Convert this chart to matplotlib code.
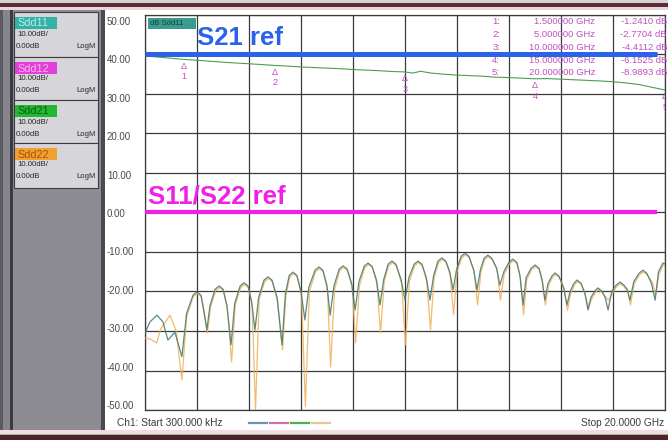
import matplotlib
matplotlib.use("Agg")
import matplotlib.pyplot as plt
from matplotlib.patches import Rectangle

plt.rcParams['font.family'] = ['Liberation Sans', 'DejaVu Sans']

W, H = 668, 440

# ---- measured traces (frequency in GHz, magnitude in dB) ----
s21_freq = [0.0003, 0.5, 1.0, 1.5, 2.0, 2.5, 3.0, 3.5, 4.0, 4.5, 5.0, 5.5, 6.0, 6.5,
            7.0, 7.5, 8.0, 8.5, 9.0, 9.5, 10.0, 10.3, 10.6, 11.0, 11.5, 12.0, 12.5,
            13.0, 13.5, 14.0, 14.5, 15.0, 15.5, 16.0, 16.5, 17.0, 17.5, 18.0, 18.5,
            19.0, 19.5, 20.0]
s21_db = [-0.35, -0.65, -0.95, -1.2410, -1.45, -1.70, -1.95, -2.15, -2.35, -2.55,
          -2.7704, -2.95, -3.15, -3.30, -3.45, -3.60, -3.80, -3.95, -4.10, -4.30,
          -4.4112, -4.70, -4.25, -4.70, -5.00, -5.20, -5.35, -5.50, -5.75, -5.85,
          -6.00, -6.1525, -6.10, -6.25, -6.40, -6.55, -6.70, -6.90, -7.20, -7.60,
          -8.30, -8.9893]

sdd11_freq = [0.0003, 0.19, 0.46, 0.69, 0.88, 1.15, 1.42, 1.60, 1.85, 2.00, 2.15, 2.25,
              2.38, 2.50, 2.70, 2.85, 3.00, 3.15, 3.31, 3.45, 3.66, 3.81, 3.96, 4.10,
              4.23, 4.37, 4.58, 4.73, 4.88, 5.08, 5.27, 5.40, 5.55, 5.69, 5.84, 6.00,
              6.15, 6.30, 6.54, 6.69, 6.84, 7.00, 7.12, 7.27, 7.47, 7.62, 7.77, 7.95,
              8.08, 8.23, 8.43, 8.58, 8.73, 8.90, 9.04, 9.18, 9.35, 9.50, 9.65, 9.85,
              10.00, 10.15, 10.35, 10.50, 10.65, 10.82, 10.96, 11.10, 11.27, 11.42,
              11.57, 11.72, 11.85, 11.98, 12.16, 12.31, 12.46, 12.64, 12.77, 12.90,
              13.04, 13.19, 13.34, 13.52, 13.65, 13.80, 14.00, 14.15, 14.30, 14.42,
              14.54, 14.66, 14.85, 15.00, 15.15, 15.27, 15.38, 15.50, 15.65, 15.77,
              15.92, 16.10, 16.23, 16.35, 16.50, 16.62, 16.77, 16.92, 17.04, 17.15,
              17.30, 17.42, 17.57, 17.70, 17.81, 17.95, 18.12, 18.27, 18.42, 18.55,
              18.65, 18.80, 19.00, 19.15, 19.30, 19.48, 19.62, 19.75, 19.92, 20.00]
sdd11_db = [-30.5, -27.7, -26.0, -27.7, -32.3, -30.3, -36.5, -25.5, -20.9, -20.1, -20.9,
            -24.5, -29.7, -23.5, -19.4, -18.6, -19.4, -23.5, -33.5, -23.0, -18.6, -17.8,
            -18.6, -22.5, -29.7, -21.5, -17.1, -16.3, -17.1, -21.5, -33.5, -20.5, -15.9,
            -15.1, -15.9, -20.0, -27.2, -19.0, -14.6, -13.8, -14.6, -18.5, -26.0, -18.5,
            -14.3, -13.5, -14.3, -18.0, -24.7, -17.5, -13.6, -12.8, -13.6, -17.0, -23.4,
            -17.0, -13.1, -12.3, -13.1, -17.0, -22.2, -16.5, -13.1, -12.3, -13.1, -16.5,
            -22.2, -16.0, -12.3, -11.5, -12.3, -15.0, -19.6, -14.5, -11.1, -10.3, -11.1,
            -14.5, -19.6, -14.5, -11.6, -10.8, -11.6, -14.0, -18.4, -15.0, -12.6, -11.8,
            -12.6, -16.0, -23.4, -16.5, -14.1, -13.3, -14.1, -17.0, -22.2, -18.0, -16.1,
            -15.3, -16.1, -19.0, -23.4, -20.0, -17.9, -17.1, -17.9, -20.5, -24.7, -21.5,
            -19.9, -19.1, -19.9, -21.5, -24.7, -20.0, -18.4, -17.6, -18.4, -19.5, -22.2,
            -17.5, -15.4, -14.6, -15.4, -18.0, -22.2, -15.0, -12.8, -13.0]

sdd22_freq = [0.0003, 0.20, 0.45, 0.60, 0.96, 1.20, 1.42, 1.60, 1.85, 2.02, 2.17, 2.27,
              2.40, 2.52, 2.72, 2.87, 3.02, 3.17, 3.33, 3.47, 3.68, 3.83, 3.98, 4.12,
              4.25, 4.39, 4.60, 4.75, 4.90, 5.10, 5.29, 5.42, 5.57, 5.71, 5.86, 6.02,
              6.17, 6.32, 6.56, 6.71, 6.86, 7.02, 7.14, 7.29, 7.49, 7.64, 7.79, 7.97,
              8.10, 8.25, 8.45, 8.60, 8.75, 8.92, 9.06, 9.20, 9.37, 9.52, 9.67, 9.87,
              10.02, 10.17, 10.37, 10.52, 10.67, 10.84, 10.98, 11.12, 11.29, 11.44,
              11.59, 11.74, 11.87, 12.00, 12.18, 12.33, 12.48, 12.66, 12.79, 12.92,
              13.06, 13.21, 13.36, 13.54, 13.67, 13.82, 14.02, 14.17, 14.32, 14.44,
              14.56, 14.68, 14.87, 15.02, 15.17, 15.29, 15.40, 15.52, 15.67, 15.79,
              15.94, 16.12, 16.25, 16.37, 16.52, 16.64, 16.79, 16.94, 17.06, 17.17,
              17.32, 17.44, 17.59, 17.72, 17.83, 17.97, 18.14, 18.29, 18.44, 18.57,
              18.67, 18.82, 19.02, 19.17, 19.32, 19.50, 19.64, 19.77, 19.94, 20.00]
sdd22_db = [-31.8, -32.0, -33.0, -29.5, -26.0, -30.0, -42.4, -26.5, -21.3, -20.5, -21.3,
            -25.0, -30.5, -24.0, -19.8, -19.0, -19.8, -24.5, -37.8, -23.5, -19.0, -18.2,
            -19.0, -23.5, -50.0, -22.0, -17.5, -16.7, -17.5, -22.5, -34.8, -21.0, -16.3,
            -15.5, -16.3, -21.0, -49.2, -20.0, -15.0, -14.2, -15.0, -20.0, -39.1, -19.5,
            -14.7, -13.9, -14.7, -19.0, -33.0, -18.5, -14.0, -13.2, -14.0, -18.0, -30.5,
            -17.5, -13.5, -12.7, -13.5, -18.0, -33.5, -17.5, -13.5, -12.7, -13.5, -17.5,
            -29.7, -16.5, -12.7, -11.9, -12.7, -16.0, -25.9, -15.0, -11.5, -10.7, -11.5,
            -15.0, -23.4, -15.0, -12.0, -11.2, -12.0, -14.5, -22.2, -15.5, -13.0, -12.2,
            -13.0, -16.5, -25.9, -17.0, -14.5, -13.7, -14.5, -17.5, -23.4, -18.5, -16.5,
            -15.7, -16.5, -19.5, -24.7, -20.5, -18.3, -17.5, -18.3, -21.0, -24.2, -22.0,
            -20.3, -19.5, -20.3, -21.5, -22.2, -20.5, -18.8, -18.0, -18.8, -20.0, -23.4,
            -18.0, -15.8, -15.0, -15.8, -17.5, -20.9, -15.5, -13.2, -13.4]

marker_ids = [1, 2, 3, 4, 5]
marker_freq = [1.5, 5.0, 10.0, 15.0, 20.0]
marker_db = [-1.2410, -2.7704, -4.4112, -6.1525, -8.9893]

s21_ref_level = 40      # grid value where S21 = 0 dB is drawn
s11_ref_level = 0
y_values = [50, 40, 30, 20, 10, 0, -10, -20, -30, -40, -50]
trace_names = ["Sdd11", "Sdd12", "Sdd21", "Sdd22"]
trace_scale = "10.00dB/"
trace_ref = "0.00dB"
trace_fmt = "LogM"
start_text = "Ch1: Start 300.000 kHz"
stop_text = "Stop 20.0000 GHz"
active_tag = "dB Sdd11"

# colours
tab_colors = ['#33b3a5', '#e040d8', '#22b832', '#f0a030']
tab_text = ['#b8f0ea', '#ffb0f4', '#0a5c14', '#a85400']
c_s11 = '#4a7d76'
c_s22 = '#edb055'
c_s21 = '#4e9e4e'
c_mark = '#c050c0'
c_blue = '#2a62e8'
c_mag = '#f020e8'

fig = plt.figure(figsize=(W / 100, H / 100), dpi=100)

# ---- background / window chrome (pixel coordinates) ----
bg = fig.add_axes([0, 0, 1, 1], zorder=0)
bg.set_xlim(0, W)
bg.set_ylim(H, 0)
bg.axis('off')

def rect(a, x0, y0, x1, y1, fc, ec='none', lw=0, z=1):
    a.add_patch(Rectangle((x0, y0), x1 - x0, y1 - y0, facecolor=fc,
                          edgecolor=ec, linewidth=lw, zorder=z))

rect(bg, 0, 0, W, H, '#ffffff')
rect(bg, 0, 0, W, 3, '#d9d0d2')
rect(bg, 0, 3, W, 7, '#5a2e36')
rect(bg, 0, 7, W, 10, '#ead6da')
rect(bg, 0, 10, 12, 432, '#85858b')
rect(bg, 0, 10, 3, 432, '#5a5a60')
rect(bg, 10, 10, 13, 432, '#3a3a40')
rect(bg, 13, 10, 101, 430, '#8c8c92')
rect(bg, 101, 10, 105, 432, '#4a4a50')
rect(bg, 0, 430, W, 434, '#efdfe2')
rect(bg, 0, 434, W, 435.5, '#9ab89a')
rect(bg, 0, 435.5, W, H, '#4e222a')

# trace setting boxes in the side panel
box_top = [12, 57, 100, 143]
box_bot = [57, 100, 143, 188]
for i, name in enumerate(trace_names):
    t, b = box_top[i], box_bot[i]
    rect(bg, 13.5, t, 98, b, '#d6d6da', ec='#3c3c40', lw=0.8, z=2)
    rect(bg, 15, t + 5, 57, t + 17, tab_colors[i], z=3)
    bg.text(17, t + 11.5, name, fontsize=7.8, color=tab_text[i], va='center',
            ha='left', zorder=4)
    bg.text(17, t + 22, trace_scale, fontsize=5.6, color='#2a2a2a', va='center',
            zorder=4)
    bg.text(16, t + 34, trace_ref, fontsize=5.6, color='#2a2a2a', va='center',
            zorder=4)
    bg.text(96, t + 34, trace_fmt, fontsize=5.6, color='#2a2a2a', va='center',
            ha='right', zorder=4)

# ---- main grid ----
x0, y0, x1, y1 = 145, 15, 665, 410
ax = fig.add_axes([x0 / W, 1 - y1 / H, (x1 - x0) / W, (y1 - y0) / H], zorder=2)
ax.set_xlim(0, 20)
ax.set_ylim(-50, 50)
ax.set_xticks([2 * k for k in range(11)])
ax.set_yticks(y_values)
ax.grid(True, color='#3a3a3a', linewidth=0.9)
ax.set_axisbelow(True)
ax.tick_params(length=0, labelbottom=False, labelleft=False)
for s in ax.spines.values():
    s.set_color('#3a3a3a')
    s.set_linewidth(0.9)

ax.plot(sdd22_freq, sdd22_db, color=c_s22, lw=0.9, alpha=0.85, zorder=3)
ax.plot(sdd11_freq, sdd11_db, color=c_s11, lw=0.9, alpha=0.9, zorder=4)
ax.plot(s21_freq, [s21_ref_level + v for v in s21_db], color=c_s21, lw=0.8, zorder=4)

# markers on the S21 trace
for mid, f, v in zip(marker_ids, marker_freq, marker_db):
    yv = s21_ref_level + v
    ax.annotate('\u0394', (f, yv), xytext=(0, -5), textcoords='offset points',
                ha='center', va='center', fontsize=6.5, color=c_mark, zorder=6,
                clip_on=True)
    ax.annotate(str(mid), (f, yv), xytext=(0, -12.5), textcoords='offset points',
                ha='center', va='center', fontsize=6.5, color=c_mark, zorder=6,
                clip_on=True)

# reference lines and their labels
ax.hlines(s21_ref_level, 0, 19.7, color=c_blue, lw=3.6, zorder=7)
ax.text(2.0, 42.3, 'S21 ref', color=c_blue, fontsize=18.5, fontweight='bold',
        va='baseline', ha='left', zorder=8)
ax.hlines(s11_ref_level, 0, 19.7, color=c_mag, lw=3.0, zorder=7)
ax.text(0.12, 2.3, 'S11/S22 ref', color=c_mag, fontsize=18.5, fontweight='bold',
        va='baseline', ha='left', zorder=8)

# ---- overlay texts (pixel coordinates) ----
top = fig.add_axes([0, 0, 1, 1], zorder=5)
top.set_xlim(0, W)
top.set_ylim(H, 0)
top.axis('off')
top.patch.set_visible(False)

rect(top, 148, 18, 196, 29, '#3a9c8e', z=1)
top.text(150, 23.5, active_tag, fontsize=5.5, color='#10403a', va='center', zorder=2)

for i, v in enumerate(y_values):
    top.text(107, 22 + i * 38.4, f"{v:.2f}", fontsize=7, color='#4a4a4a',
             va='center', ha='left')

for i, (mid, f, v) in enumerate(zip(marker_ids, marker_freq, marker_db)):
    yy = 22 + i * 12.7
    top.text(500, yy, f"{mid}:", fontsize=6.8, color=c_mark, va='center', ha='right')
    top.text(595, yy, f"{f:.6f} GHz", fontsize=6.8, color=c_mark, va='center',
             ha='right')
    top.text(667, yy, f"{v:.4f} dB", fontsize=6.8, color=c_mark, va='center',
             ha='right')

top.text(117, 423, start_text, fontsize=7.3, color='#3a3a3a', va='center', ha='left')
top.text(664, 423, stop_text, fontsize=7.3, color='#3a3a3a', va='center', ha='right')
for i, c in enumerate(['#7090b8', '#d070a8', '#50b050', '#e8c890']):
    top.plot([249 + 21 * i, 267 + 21 * i], [423, 423], color=c, lw=1.6)

fig.savefig('out.png', dpi=100)
